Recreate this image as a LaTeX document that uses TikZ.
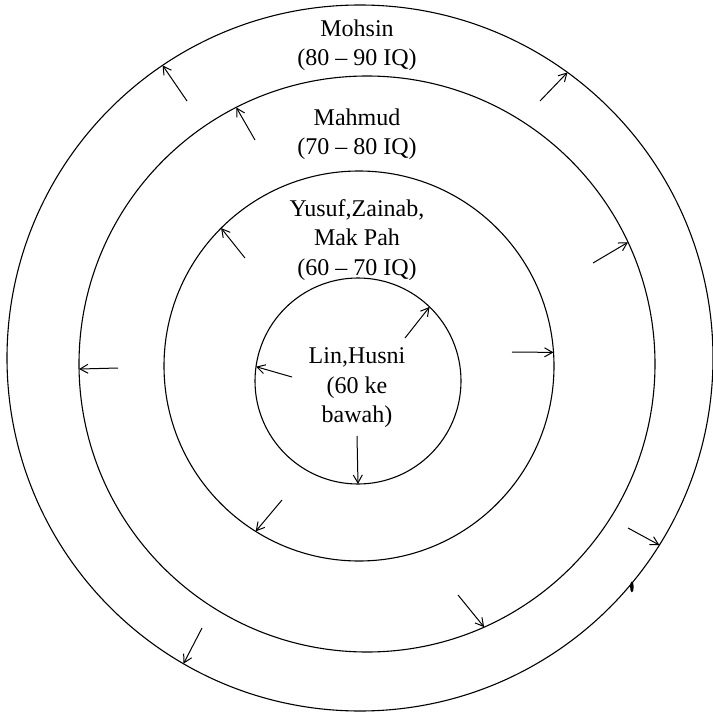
\documentclass[tikz,border=0pt]{standalone}
\usepackage{fontspec}
\setmainfont{Liberation Serif}
\usetikzlibrary{arrows.meta}
\begin{document}
\begin{tikzpicture}[x=1pt,y=-1pt,
  ring/.style={circle,draw,line width=1.1pt,inner sep=0pt,outer sep=0pt},
  lbl/.style={align=center,inner sep=0pt,font=\fontsize{24}{29.5}\selectfont},
  arr/.style={line width=1pt,-{Straight Barb[length=8pt,width=9pt,line width=1pt]}}]
\useasboundingbox (0,0) rectangle (713,712);
% circles
\node[ring,minimum size=706pt] (c1) at (360,358) {};
\node[ring,minimum size=576pt] (c2) at (367,364) {};
\node[ring,minimum size=390pt] (c3) at (359,366) {};
\node[ring,minimum size=206pt] (c4) at (358,381) {};
% labels
\node[lbl] (t1) at (357,45) {Mohsin\\(80 -- 90 IQ)};
\node[lbl] (t2) at (357,134) {Mahmud\\(70 -- 80 IQ)};
\node[lbl] (t3) at (357,240) {Yusuf,Zainab,\\Mak Pah\\(60 -- 70 IQ)};
\node[lbl] (t4) at (357,388) {Lin,Husni\\(60 ke\\bawah)};
% arrow start points
\coordinate (a1) at (357,436);
\coordinate (a2) at (292,377);
\coordinate (a3) at (405,338);
\coordinate (b1) at (512,352);
\coordinate (b2) at (245,258);
\coordinate (b3) at (282,500);
\coordinate (d1) at (255,140);
\coordinate (d2) at (118,368);
\coordinate (d3) at (593,263);
\coordinate (d4) at (458,595);
\coordinate (e1) at (187,101);
\coordinate (e2) at (540,101);
\coordinate (e3) at (628,528);
\coordinate (e4) at (202,628);
% arrows: inner circle
\draw[arr] (a1) -- (c4.-90);
\draw[arr] (a2) -- (c4.172);
\draw[arr] (a3) -- (c4.46);
% arrows: third circle
\draw[arr] (b1) -- (c3.4);
\draw[arr] (b2) -- (c3.135);
\draw[arr] (b3) -- (c3.-122);
% arrows: second circle
\draw[arr] (d1) -- (c2.117);
\draw[arr] (d2) -- (c2.181);
\draw[arr] (d3) -- (c2.25);
\draw[arr] (d4) -- (c2.-66.5);
% arrows: outer circle
\draw[arr] (e1) -- (c1.124);
\draw[arr] (e2) -- (c1.54.4);
\draw[arr] (e3) -- (c1.-32);
\draw[arr] (e4) -- (c1.-120.5);
% small mark on the outer circle
\fill (c1.-40.5) ++(1.5,2) ellipse (1.8pt and 5.5pt);
\end{tikzpicture}
\end{document}
